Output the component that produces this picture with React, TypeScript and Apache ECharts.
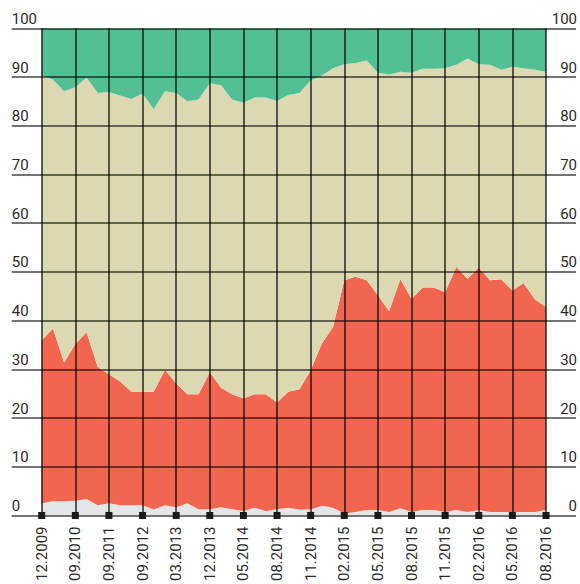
import React, { useEffect, useRef } from "react";
import * as echarts from "echarts";

const tickLabels = [
  "12.2009", "09.2010", "09.2011", "09.2012", "03.2013", "12.2013", "05.2014", "08.2014",
  "11.2014", "02.2015", "05.2015", "08.2015", "11.2015", "02.2016", "05.2016", "08.2016",
];

// Cumulative upper boundaries of each layer (percent), 46 points, 3 steps between labels
const grayTop = [
  2.5, 2.9, 2.9, 3.0, 3.4, 2.1, 2.5, 2.1, 2.1, 2.1, 1.2, 2.1, 1.7, 2.5, 1.3, 1.3,
  1.7, 1.3, 0.9, 1.6, 0.9, 1.3, 1.6, 1.2, 1.2, 2.0, 1.6, 0.4, 0.7, 1.1, 1.1, 0.7,
  1.5, 0.7, 1.1, 1.1, 0.7, 1.1, 0.7, 1.1, 0.7, 0.7, 0.7, 0.7, 0.7, 1.1,
];
const redTop = [
  35.9, 38.4, 31.4, 35.2, 37.6, 30.5, 29.0, 27.5, 25.4, 25.4, 25.4, 29.9, 27.1, 24.9, 24.9, 29.4,
  26.2, 24.9, 24.0, 24.9, 24.9, 23.2, 25.4, 25.9, 29.8, 35.3, 38.7, 48.3, 49.0, 48.3, 45.2, 41.9,
  48.5, 44.5, 46.8, 46.8, 45.8, 51.0, 48.6, 50.9, 48.3, 48.5, 46.2, 47.7, 44.4, 42.8,
];
const beigeTop = [
  90.3, 89.5, 87.1, 87.9, 89.9, 86.7, 86.9, 86.2, 85.5, 86.6, 83.4, 87.1, 86.7, 85.0, 85.4, 88.7,
  88.3, 85.4, 84.7, 85.8, 85.8, 85.1, 86.3, 86.7, 89.3, 90.3, 91.8, 92.6, 92.9, 93.4, 90.9, 90.5,
  91.1, 90.9, 91.7, 91.7, 91.8, 92.5, 93.8, 92.6, 92.5, 91.5, 92.1, 91.8, 91.5, 91.1,
];
const yTicks = [0, 10, 20, 30, 40, 50, 60, 70, 80, 90, 100];

const STEP = 3;
const FONT = "Roboto, 'Noto Sans', sans-serif";
const HLINE = "rgba(0,0,0,0.55)";
const VLINE = "rgba(0,0,0,0.82)";

export default function App() {
  const ref = useRef<HTMLDivElement>(null);
  useEffect(() => {
    if (!ref.current) return;
    const chart = echarts.init(ref.current, null, { renderer: "svg" });
    const categories = grayTop.map((_, i) => (i % STEP === 0 ? tickLabels[i / STEP] : "p" + i));
    const r2 = (v: number) => Math.round(v * 10) / 10;
    const gray = grayTop.slice();
    const red = redTop.map((v, i) => r2(v - grayTop[i]));
    const beige = beigeTop.map((v, i) => r2(v - redTop[i]));
    const green = beigeTop.map((v) => r2(yTicks[yTicks.length - 1] - v));
    const area = (name: string, data: number[], color: string) => ({
      name,
      type: "line",
      stack: "all",
      data,
      symbol: "none",
      showSymbol: false,
      lineStyle: { width: 0 },
      areaStyle: { color, opacity: 1 },
      itemStyle: { color },
      z: 1,
    });
    const yAxisBase = {
      type: "value",
      min: yTicks[0],
      max: yTicks[yTicks.length - 1],
      interval: 10,
      axisLine: { show: false },
      axisTick: { show: true, length: 30, lineStyle: { color: HLINE, width: 2 } },
      z: 5,
    };
    chart.setOption({
      animation: false,
      grid: { left: 41.7, right: 31.7, top: 28.3, bottom: 68.3, containLabel: false },
      xAxis: {
        type: "category",
        data: categories,
        boundaryGap: false,
        z: 4,
        axisLine: { show: false },
        axisTick: { show: false },
        axisLabel: {
          interval: (i: number) => i % STEP === 0,
          rotate: 90,
          margin: 11,
          color: "#2a2a2a",
          fontSize: 15,
          fontFamily: FONT,
        },
        splitLine: {
          show: true,
          interval: (i: number) => i % STEP === 0,
          lineStyle: { color: VLINE, width: 1.5 },
        },
      },
      yAxis: [
        {
          ...yAxisBase,
          position: "left",
          splitLine: { show: true, lineStyle: { color: HLINE, width: 2 } },
          axisLabel: {
            margin: 30,
            align: "left",
            verticalAlign: "bottom",
            padding: [0, 0, 2, 0],
            color: "#2a2a2a",
            fontSize: 15,
            fontFamily: FONT,
          },
        },
        {
          ...yAxisBase,
          position: "right",
          splitLine: { show: false },
          axisLabel: {
            margin: 31,
            align: "right",
            verticalAlign: "bottom",
            padding: [0, 0, 2, 0],
            color: "#2a2a2a",
            fontSize: 15,
            fontFamily: FONT,
          },
        },
      ],
      series: [
        area("gray", gray, "#e4e5e6"),
        area("red", red, "#f26650"),
        area("beige", beige, "#dcd9b2"),
        area("green", green, "#52bf95"),
        {
          name: "markers",
          type: "scatter",
          data: tickLabels.map((l) => [l, 0]),
          symbol: "rect",
          symbolSize: 7,
          itemStyle: { color: "#1a1a1a", opacity: 1 },
          clip: false,
          silent: true,
          z: 10,
        },
      ],
    });
    return () => chart.dispose();
  }, []);
  return (
    <div
      ref={ref}
      style={{ position: "absolute", left: 0, top: 0, width: 580, height: 584 }}
    />
  );
}
